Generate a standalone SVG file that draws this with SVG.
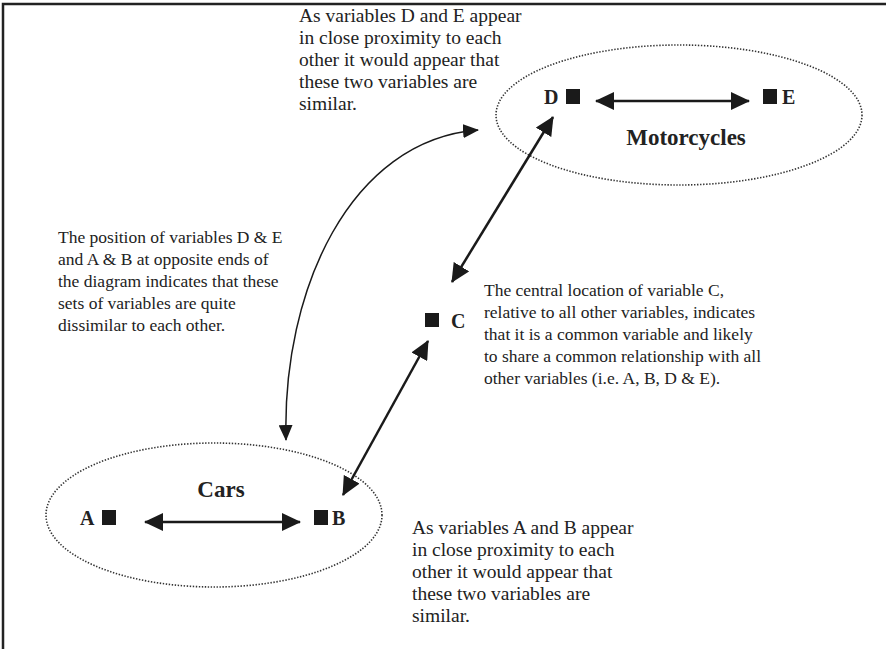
<svg xmlns="http://www.w3.org/2000/svg" width="886" height="649" viewBox="0 0 886 649">
<style>
.t{font-family:"Liberation Serif","Times New Roman",serif;font-size:17.5px;fill:#222}
.tl{font-family:"Liberation Serif","Times New Roman",serif;font-size:19.5px;fill:#222}
.lb{font-family:"Liberation Serif","Times New Roman",serif;font-weight:bold;font-size:20px;fill:#222}
.gl{font-family:"Liberation Serif","Times New Roman",serif;font-weight:bold;font-size:23px;fill:#222}
.grp{fill:none;stroke:#333;stroke-width:1.6;stroke-dasharray:1.4 1.6}
.sq{fill:#1a1a1a}
.ar{fill:none;stroke:#1a1a1a;stroke-width:2.5}
.cv{fill:none;stroke:#1a1a1a;stroke-width:1.5}
</style>
<defs>
<marker id="ah" markerUnits="userSpaceOnUse" markerWidth="19" markerHeight="18" refX="18" refY="9" orient="auto-start-reverse">
<path d="M0,0 L19,9 L0,18 z" fill="#1a1a1a"/>
</marker>
<marker id="ahs" markerUnits="userSpaceOnUse" markerWidth="16" markerHeight="14" refX="15" refY="7" orient="auto-start-reverse">
<path d="M0,0 L16,7 L0,14 z" fill="#1a1a1a"/>
</marker>
</defs>
<rect width="886" height="649" fill="#fff"/>
<path d="M3,649 V4 H886" fill="none" stroke="#222" stroke-width="2.5"/>

<g id="motorcycles">
<ellipse class="grp" cx="679" cy="115" rx="183" ry="70"/>
<text class="gl" x="686" y="145" text-anchor="middle">Motorcycles</text>
</g>
<g id="nodeD">
<text class="lb" x="544" y="104">D</text>
<rect class="sq" x="566" y="89" width="14" height="15"/>
</g>
<g id="nodeE">
<rect class="sq" x="763" y="89" width="14" height="15"/>
<text class="lb" x="782" y="104">E</text>
</g>

<g id="cars">
<ellipse class="grp" cx="214" cy="515" rx="168" ry="72"/>
<text class="gl" x="221" y="497" text-anchor="middle">Cars</text>
</g>
<g id="nodeA">
<text class="lb" x="80" y="525">A</text>
<rect class="sq" x="102" y="510" width="14" height="15"/>
</g>
<g id="nodeB">
<rect class="sq" x="314" y="510" width="14" height="15"/>
<text class="lb" x="332" y="525">B</text>
</g>

<g id="nodeC">
<rect class="sq" x="425" y="313" width="14" height="14"/>
<text class="lb" x="451" y="328">C</text>
</g>

<g id="connectors">
<line class="ar" x1="596" y1="101" x2="749" y2="101" marker-start="url(#ah)" marker-end="url(#ah)"/>
<line class="ar" x1="145" y1="522" x2="300" y2="522" marker-start="url(#ah)" marker-end="url(#ah)"/>
<line class="ar" x1="452" y1="282" x2="553" y2="117" marker-start="url(#ah)" marker-end="url(#ah)"/>
<line class="ar" x1="343" y1="495" x2="428" y2="341" marker-start="url(#ah)" marker-end="url(#ah)"/>
<path class="cv" d="M286,440 C282,290 350,140 478,130" marker-start="url(#ahs)" marker-end="url(#ahs)"/>
</g>

<g id="note-de">
<text class="tl"><tspan x="299" y="22">As variables D and E appear</tspan><tspan x="299" y="44">in close proximity to each</tspan><tspan x="299" y="66">other it would appear that</tspan><tspan x="299" y="88">these two variables are</tspan><tspan x="299" y="110">similar.</tspan></text>
</g>
<g id="note-dissimilar">
<text class="t"><tspan x="58" y="243">The position of variables D &amp; E</tspan><tspan x="58" y="265">and A &amp; B at opposite ends of</tspan><tspan x="58" y="287">the diagram indicates that these</tspan><tspan x="58" y="309">sets of variables are quite</tspan><tspan x="58" y="331">dissimilar to each other.</tspan></text>
</g>
<g id="note-c">
<text class="t"><tspan x="484" y="296">The central location of variable C,</tspan><tspan x="484" y="318">relative to all other variables, indicates</tspan><tspan x="484" y="340">that it is a common variable and likely</tspan><tspan x="484" y="362">to share a common relationship with all</tspan><tspan x="484" y="384">other variables (i.e. A, B, D &amp; E).</tspan></text>
</g>
<g id="note-ab">
<text class="tl"><tspan x="412" y="534">As variables A and B appear</tspan><tspan x="412" y="556">in close proximity to each</tspan><tspan x="412" y="578">other it would appear that</tspan><tspan x="412" y="600">these two variables are</tspan><tspan x="412" y="622">similar.</tspan></text>
</g>
</svg>
